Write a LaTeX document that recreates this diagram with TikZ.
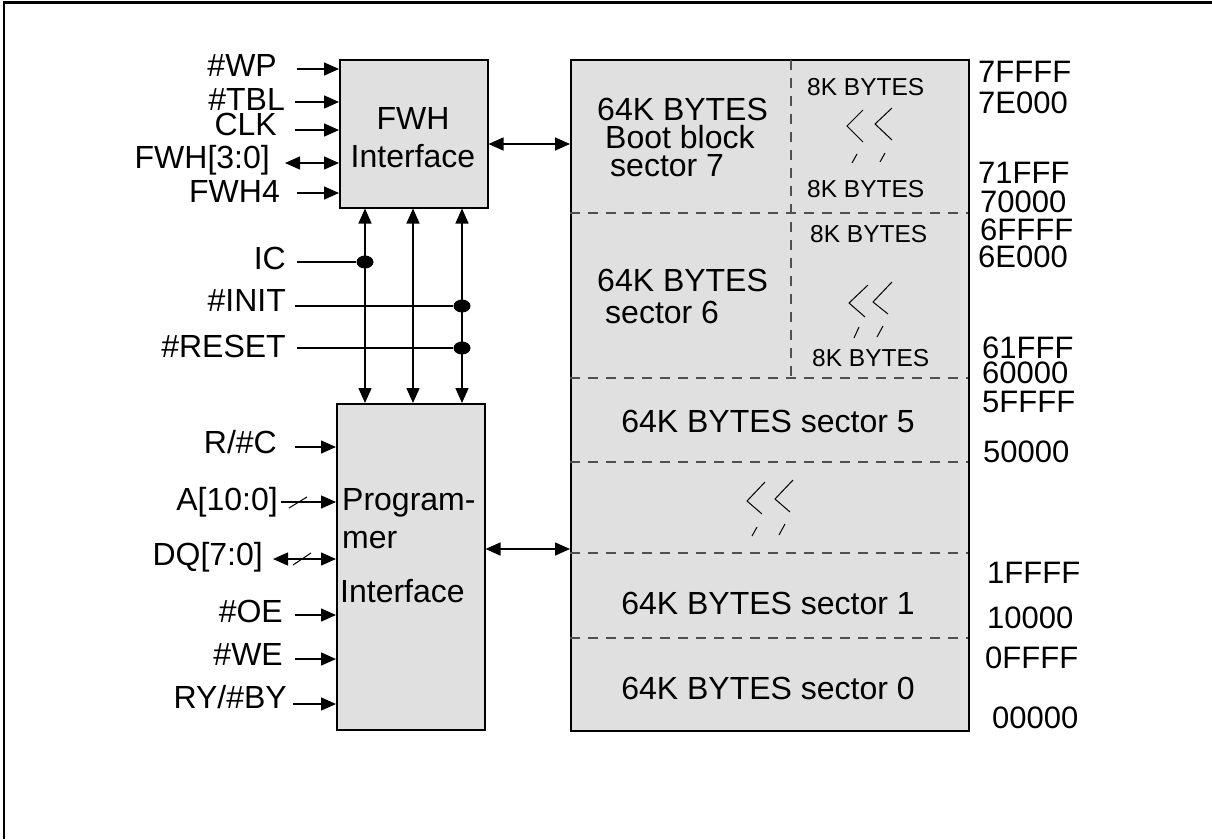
\documentclass[tikz,border=0pt]{standalone}
\usepackage{fontspec}
\setmainfont{Liberation Sans}
\usetikzlibrary{arrows.meta,shapes.geometric}
\definecolor{boxfill}{HTML}{E0E0E0}
\definecolor{dashgray}{HTML}{505050}
\tikzset{
  blk/.style={draw=black, line width=1.5pt, fill=boxfill, inner sep=0pt},
  arr/.style={line width=1.5pt, -{Triangle[length=15pt,width=13pt]}},
  darr/.style={line width=1.5pt, {Triangle[length=15pt,width=13pt]}-{Triangle[length=15pt,width=13pt]}},
  wire/.style={line width=1.5pt},
  lbl/.style={font=\fontsize{32}{36}\selectfont, inner sep=0pt, anchor=base east},
  txt/.style={font=\fontsize{32}{36}\selectfont, inner sep=0pt, anchor=base west},
  ctxt/.style={font=\fontsize{32}{36}\selectfont, inner sep=0pt, anchor=base},
  addr/.style={font=\fontsize{31}{35}\selectfont, inner sep=0pt, anchor=base west},
  small/.style={font=\fontsize{24.5}{28}\selectfont, inner sep=0pt, anchor=base west},
  brk/.style={line width=1pt},
  sepline/.style={line width=1.1pt, draw=dashgray, dash pattern=on 10pt off 8pt},
  jdot/.style={ellipse, fill=black, minimum width=17pt, minimum height=13pt, inner sep=0pt},
}
\begin{document}
\begin{tikzpicture}[x=1pt,y=-1pt]
\useasboundingbox (0,0) rectangle (1212,839);
\draw[line width=2.5pt] (4,839) -- (4,2.5) -- (1212,2.5);

% boxes
\node[blk, anchor=north west, minimum width=148pt, minimum height=148pt] (fwh) at (339,59) {};
\node[blk, anchor=north west, minimum width=398pt, minimum height=671pt] (mem) at (570,59) {};
\node[blk, anchor=north west, minimum width=148pt, minimum height=326pt] (prog) at (336,403) {};

% memory separators
\draw[sepline] (570,213) -- (968,213);
\draw[sepline] (570,378) -- (968,378);
\draw[sepline] (570,462) -- (968,462);
\draw[sepline] (570,553) -- (968,553);
\draw[sepline] (570,638) -- (968,638);
\draw[sepline] (791,60) -- (791,378);

% FWH box text
\node[ctxt] (fwht1) at (413,129) {FWH};
\node[ctxt] (fwht2) at (413,167) {Interface};

% programmer text
\node[txt] (pt1) at (342,510) {Program-};
\node[txt] (pt2) at (342,548) {mer};
\node[txt] (pt3) at (340,602) {Interface};

% FWH inputs
\node[lbl] (wp) at (277,76) {\#WP};
\node[lbl] (tbl) at (285,110) {\#TBL};
\node[lbl] (clk) at (277,135) {CLK};
\node[lbl] (fwhb) at (270,168) {FWH[3:0]};
\node[lbl] (fwh4) at (280,202) {FWH4};
\coordinate (wpa) at (297,69);
\coordinate (tbla) at (295,102);
\coordinate (clka) at (295,130);
\coordinate (fwhba) at (285,163);
\coordinate (fwh4a) at (297,193);
\draw[arr] (wpa) -- (wpa -| fwh.west);
\draw[arr] (tbla) -- (tbla -| fwh.west);
\draw[arr] (clka) -- (clka -| fwh.west);
\draw[darr] (fwhba) -- (fwhba -| fwh.west);
\draw[arr] (fwh4a) -- (fwh4a -| fwh.west);

% FWH <-> memory
\coordinate (fm) at (0,144);
\draw[darr] (fm -| fwh.east) -- (fm -| mem.west);
% programmer <-> memory
\coordinate (pm) at (0,549);
\draw[darr] (pm -| prog.east) -- (pm -| mem.west);

% vertical buses
\coordinate (c1) at (365,0);
\coordinate (c2) at (413,0);
\coordinate (c3) at (462,0);
\draw[darr] (c1 |- fwh.south) -- (c1 |- prog.north);
\draw[darr] (c2 |- fwh.south) -- (c2 |- prog.north);
\draw[darr] (c3 |- fwh.south) -- (c3 |- prog.north);

% IC, INIT, RESET
\node[lbl] (ic) at (286,269) {IC};
\node[lbl] (init) at (286,311) {\#INIT};
\node[lbl] (reset) at (286,357) {\#RESET};
\node[jdot] (dic) at (365,262) {};
\node[jdot] (dinit) at (462,306) {};
\node[jdot] (dreset) at (462,348) {};
\coordinate (icw) at (297,262);
\coordinate (initw) at (295,306);
\coordinate (resetw) at (297,348);
\draw[wire] (icw) -- (dic);
\draw[wire] (initw) -- (dinit);
\draw[wire] (resetw) -- (dreset);

% programmer inputs
\node[lbl] (rc) at (277,453) {R/\#C};
\node[lbl] (aa) at (278,510) {A[10:0]};
\node[lbl] (dq) at (263,565) {DQ[7:0]};
\node[lbl] (oe) at (283,622) {\#OE};
\node[lbl] (we) at (283,665) {\#WE};
\node[lbl] (ry) at (287,708) {RY/\#BY};
\coordinate (rca) at (295,447);
\coordinate (aaa) at (281,502);
\coordinate (dqa) at (273,559);
\coordinate (oea) at (295,615);
\coordinate (wea) at (295,659);
\coordinate (rya) at (293,704);
\draw[arr] (rca) -- (rca -| prog.west);
\draw[arr] (aaa) -- (aaa -| prog.west);
\draw[darr] (dqa) -- (dqa -| prog.west);
\draw[arr] (oea) -- (oea -| prog.west);
\draw[arr] (wea) -- (wea -| prog.west);
\draw[arr] (rya) -- (rya -| prog.west);
\draw[brk] (289,508) -- (307,497);
\draw[brk] (293,565) -- (311,553);

% sector 7
\node[txt] (s7a) at (597,120) {64K BYTES};
\node[txt] (s7b) at (605,148) {Boot block};
\node[txt] (s7c) at (610,176) {sector 7};
\node[small] (s7k1) at (807,95) {8K BYTES};
\node[small] (s7k2) at (807,197) {8K BYTES};
\draw[brk] (863,110) -- (847,126) -- (863,142);
\draw[brk] (892,108) -- (875,124) -- (892,140);
\draw[brk] (852,163) -- (857,154);
\draw[brk] (880,162) -- (885,153);

% sector 6
\node[txt] (s6a) at (597,291) {64K BYTES};
\node[txt] (s6b) at (605,323) {sector 6};
\node[small] (s6k1) at (810,242) {8K BYTES};
\node[small] (s6k2) at (812,366) {8K BYTES};
\draw[brk] (868,285) -- (849,303) -- (865,317);
\draw[brk] (892,282) -- (873,302) -- (888,314);
\draw[brk] (854,338) -- (859,327);
\draw[brk] (877,337) -- (883,326);

% sector 5
\node[ctxt] (s5) at (768,432) {64K BYTES sector 5};
% break
\draw[brk] (765,482) -- (747,501) -- (762,514);
\draw[brk] (793,480) -- (775,499) -- (790,512);
\draw[brk] (752,536) -- (757,527);
\draw[brk] (779,535) -- (785,524);
% sectors 1, 0
\node[ctxt] (s1) at (768,614) {64K BYTES sector 1};
\node[ctxt] (s0) at (768,699) {64K BYTES sector 0};

% addresses
\node[addr] (a1) at (978,82) {7FFFF};
\node[addr] (a2) at (978,113) {7E000};
\node[addr] (a3) at (978,183) {71FFF};
\node[addr] (a4) at (980,212) {70000};
\node[addr] (a5) at (980,240) {6FFFF};
\node[addr] (a6) at (978,267) {6E000};
\node[addr] (a7) at (982,358) {61FFF};
\node[addr] (a8) at (982,383) {60000};
\node[addr] (a9) at (982,412) {5FFFF};
\node[addr] (a10) at (983,462) {50000};
\node[addr] (a11) at (987,583) {1FFFF};
\node[addr] (a12) at (987,628) {10000};
\node[addr] (a13) at (985,668) {0FFFF};
\node[addr] (a14) at (992,728) {00000};
\end{tikzpicture}
\end{document}
